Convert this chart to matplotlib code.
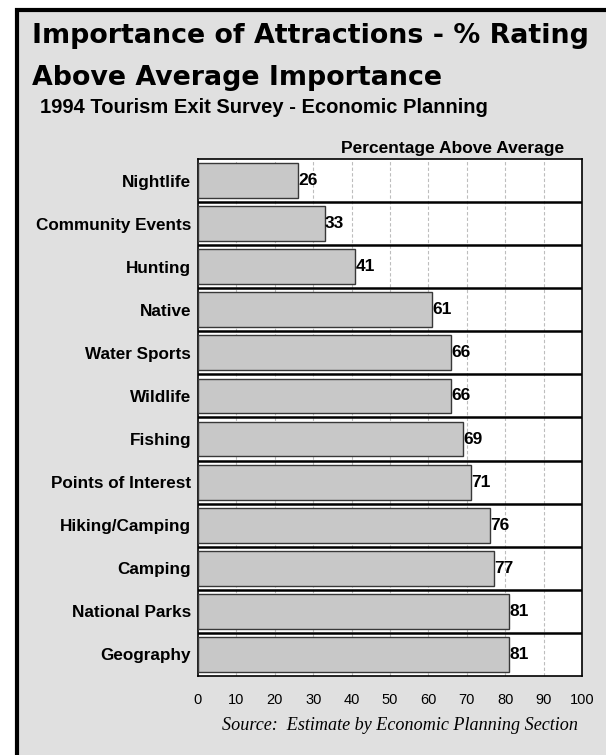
import matplotlib
matplotlib.use("Agg")
import matplotlib.pyplot as plt
from matplotlib.patches import Rectangle

categories = ["Nightlife", "Community Events", "Hunting", "Native", "Water Sports",
              "Wildlife", "Fishing", "Points of Interest", "Hiking/Camping",
              "Camping", "National Parks", "Geography"]
values = [26, 33, 41, 61, 66, 66, 69, 71, 76, 77, 81, 81]
xticks = [0, 10, 20, 30, 40, 50, 60, 70, 80, 90, 100]

W, H = 606, 755
fig = plt.figure(figsize=(W / 100, H / 100), dpi=100)
fig.patch.set_facecolor("white")

# outer gray panel with black border (extends beyond right/bottom)
panel = Rectangle((17 / W, -0.1), 1.2, 1 - 10 / H + 0.1, transform=fig.transFigure,
                  facecolor="#e0e0e0", edgecolor="black", linewidth=3, zorder=-10)
fig.patches.append(panel)

sans = ["Liberation Sans", "DejaVu Sans"]
wide = ["DejaVu Sans"]

fig.text(32 / W, 1 - 43 / H, "Importance of Attractions - % Rating", fontsize=19.4,
         fontweight="bold", family=wide, ha="left", va="baseline")
fig.text(32 / W, 1 - 85 / H, "Above Average Importance", fontsize=19.4,
         fontweight="bold", family=wide, ha="left", va="baseline")
fig.text(40 / W, 1 - 113 / H, "1994 Tourism Exit Survey - Economic Planning", fontsize=14.5,
         fontweight="bold", family=sans, ha="left", va="baseline")

ax = fig.add_axes([198 / W, 1 - 676 / H, (582 - 198) / W, (676 - 159) / H], zorder=2)
ax.set_facecolor("white")

n = len(categories)
ypos = list(range(n))[::-1]
ax.barh(ypos, values, height=0.81, color="#c8c8c8", edgecolor="#383838",
        linewidth=1.0, zorder=3)
for y, v in zip(ypos, values):
    ax.text(v + 0.1, y, str(v), fontsize=12.5, fontweight="bold", family=sans,
            ha="left", va="center", zorder=4)

ax.set_xlim(0, 100)
ax.set_ylim(-0.5, n - 0.5)
for x in xticks[1:-1]:
    ax.axvline(x, color="#bdbdbd", linewidth=0.8, linestyle=(0, (3, 2)), zorder=1)
for k in range(n - 1):
    ax.axhline(k + 0.5, color="black", linewidth=1.8, zorder=5)

ax.set_yticks(ypos)
ax.set_yticklabels(categories, fontsize=12.3, fontweight="bold", family=sans)
ax.set_xticks(xticks)
ax.set_xticklabels([str(t) for t in xticks], fontsize=10.5, family=sans)
ax.tick_params(axis="both", length=0)
ax.tick_params(axis="y", pad=5)
ax.tick_params(axis="x", pad=12)
for s in ax.spines.values():
    s.set_color("black")
    s.set_linewidth(1.2)

ax.set_title("Percentage Above Average", fontsize=12.5, fontweight="bold", family=sans,
             loc="center", x=(453 - 198) / (582 - 198), pad=4)

fig.text(400 / W, 1 - 730 / H, "Source:  Estimate by Economic Planning Section",
         fontsize=13.1, style="italic", family=["Liberation Serif", "DejaVu Serif"],
         ha="center", va="baseline")

fig.savefig("out.png", dpi=100, facecolor=fig.get_facecolor())
